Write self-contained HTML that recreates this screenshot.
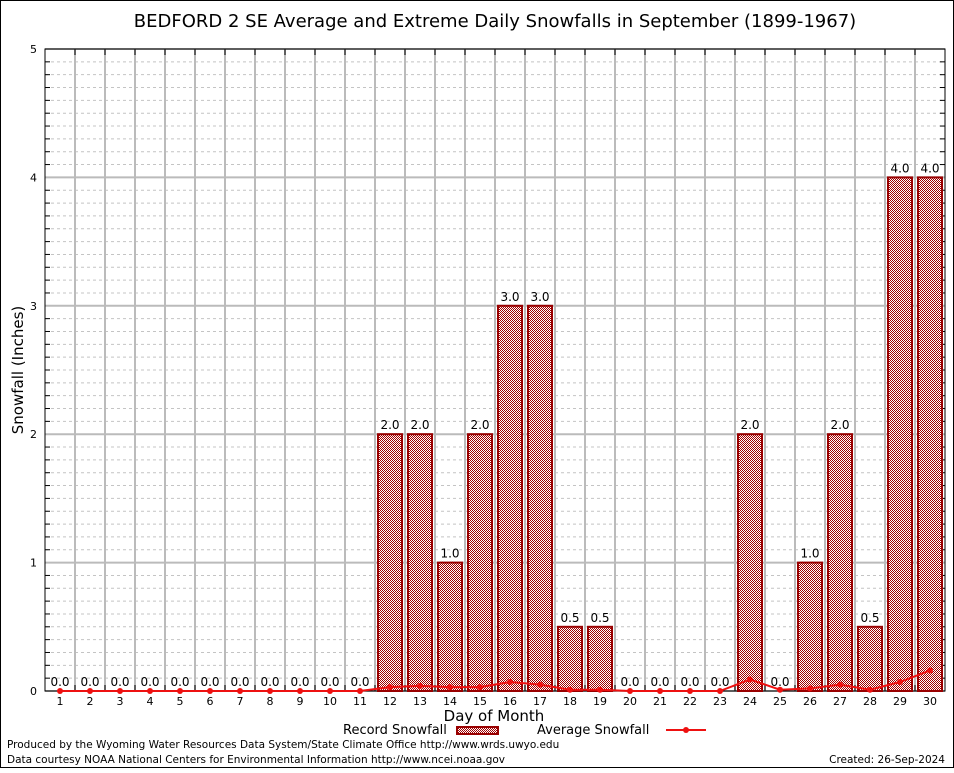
<!DOCTYPE html>
<html><head><meta charset="utf-8"><style>
body{margin:0;background:#fff;}
svg text{font-family:"DejaVu Sans","Liberation Sans",sans-serif;}
</style></head><body>
<svg id="c" width="954" height="768" viewBox="0 0 954 768" xmlns="http://www.w3.org/2000/svg">
<defs>
<pattern id="chk" width="2" height="2" patternUnits="userSpaceOnUse">
<rect width="2" height="2" fill="#fff"/><rect width="1" height="1" fill="#a00000"/><rect x="1" y="1" width="1" height="1" fill="#a00000"/>
</pattern>
</defs>
<rect x="0.5" y="0.5" width="953" height="767" fill="#fff" stroke="#000"/>
<text x="495" y="27" font-size="18" text-anchor="middle">BEDFORD 2 SE Average and Extreme Daily Snowfalls in September (1899-1967)</text>
<g id="grid"></g>
<g id="bars"></g>
<g id="line"></g>
<text transform="translate(23,370) rotate(-90)" font-size="15" text-anchor="middle">Snowfall (Inches)</text>
<text x="494" y="721" font-size="15" text-anchor="middle">Day of Month</text>
<text x="343" y="734" font-size="13">Record Snowfall</text>
<rect x="457" y="727" width="41" height="7" fill="url(#chk)" stroke="#990000" stroke-width="2"/>
<text x="537" y="734" font-size="13">Average Snowfall</text>
<line x1="666" y1="730" x2="706" y2="730" stroke="#ee1111" stroke-width="2"/>
<circle cx="686" cy="730" r="3" fill="#ee1111"/>
<text x="7" y="748" font-size="10.5">Produced by the Wyoming Water Resources Data System/State Climate Office http://www.wrds.uwyo.edu</text>
<text x="7" y="763" font-size="10.5">Data courtesy NOAA National Centers for Environmental Information http://www.ncei.noaa.gov</text>
<text x="945" y="763" font-size="10.5" text-anchor="end">Created: 26-Sep-2024</text>
</svg>
<script>
const days=[1,2,3,4,5,6,7,8,9,10,11,12,13,14,15,16,17,18,19,20,21,22,23,24,25,26,27,28,29,30];
const recordSnow=[0,0,0,0,0,0,0,0,0,0,0,2,2,1,2,3,3,0.5,0.5,0,0,0,0,2,0,1,2,0.5,4,4];
const avgSnow=[0,0,0,0,0,0,0,0,0,0,0,0.03,0.04,0.03,0.03,0.07,0.05,0.01,0.01,0,0,0,0,0.09,0.01,0.02,0.05,0.01,0.07,0.16];
const yTicks=[0,1,2,3,4,5];
const NS='http://www.w3.org/2000/svg';
const L=45,R=945,T=49,B=691;
const xs=d=>L+(d-0.5)*(R-L)/30;
const ys=v=>B-v*(B-T)/5;
function mk(tag,attrs,parent,txt){const e=document.createElementNS(NS,tag);for(const k in attrs)e.setAttribute(k,attrs[k]);if(txt!==undefined)e.textContent=txt;parent.appendChild(e);return e;}
const g=document.getElementById('grid'),gb=document.getElementById('bars'),gl=document.getElementById('line');
for(let i=1;i<50;i++){if(i%10===0)continue;const y=ys(i/10);const e=mk('line',{x1:L,x2:R,y1:y,y2:y,stroke:'#c4c4c4','stroke-dasharray':'3,3'},g);


mk('line',{x1:L,x2:L+5,y1:y,y2:y,stroke:'#000'},g);mk('line',{x1:R-5,x2:R,y1:y,y2:y,stroke:'#000'},g);}
yTicks.forEach(t=>{const y=ys(t);const e=mk('line',{x1:L,x2:R,y1:y,y2:y,stroke:'#bbb','stroke-width':2},g);


const tx=mk('text',{x:L-8,y:y+4,'font-size':11,'text-anchor':'end'},g,String(t));

});
for(let k=1;k<30;k++){const x=L+k*30;const e=mk('line',{x1:x,x2:x,y1:T,y2:B,stroke:'#bbb','stroke-width':2},g);


mk('line',{x1:x,x2:x,y1:T,y2:T+6,stroke:'#000'},g);mk('line',{x1:x,x2:x,y1:B-6,y2:B,stroke:'#000'},g);}
const fr=mk('rect',{x:L,y:T,width:R-L,height:B-T,fill:'none',stroke:'#000'},g);


days.forEach((d,i)=>{const x=xs(d),v=recordSnow[i];
if(v>0){const b=mk('rect',{x:x-12,y:ys(v),width:24,height:B-ys(v),fill:'url(#chk)',stroke:'#990000','stroke-width':2},gb);

}
const lt=mk('text',{x:x,y:ys(v)-5,'font-size':12,'text-anchor':'middle'},gb,v.toFixed(1));


const xt=mk('text',{x:x,y:B+14,'font-size':11,'text-anchor':'middle','font-family':'Liberation Serif, serif'},gb,String(d));

});
const pts=days.map((d,i)=>xs(d)+','+ys(avgSnow[i])).join(' ');
const pl=mk('polyline',{points:pts,fill:'none',stroke:'#ee1111','stroke-width':2},gl);


days.forEach((d,i)=>{const c=mk('circle',{cx:xs(d),cy:ys(avgSnow[i]),r:3,fill:'#ee1111'},gl);

});
</script>
</body></html>
